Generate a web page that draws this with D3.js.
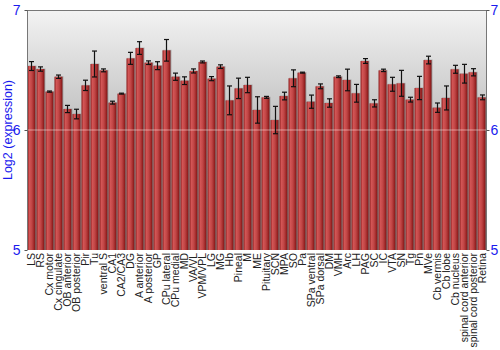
<!DOCTYPE html>
<html><head><meta charset="utf-8">
<script src="https://cdn.jsdelivr.net/npm/d3@7"></script>
<style>body{margin:0;background:#fff}svg{display:block}</style>
</head><body><svg id="c" width="500" height="350"></svg>
<script>
const regions = ["LS","RS","Cx motor","Cx cingulate","OB anterior","OB posterior","Pir","Tu","ventral S","CA1","CA2/CA3","DG","A anterior","A posterior","GP","CPu lateral","CPu medial","MD","VA/VL","VPM/VPL","LG","MG","Hb","Pineal","M","ME","Pituitary","SCN","MPA","SO","Pa","SPa ventral","SPa dorsal","DM","VMH","Arc","LH","PAG","SC","IC","VTA","SN","Tg","Pn","MVe","Cb vermis","Cb lobe","Cb nucleus","spinal cord anterior","spinal cord posterior","Retina"];
const expression = [6.533,6.508,6.32,6.444,6.175,6.133,6.372,6.55,6.497,6.228,6.303,6.597,6.683,6.561,6.536,6.664,6.444,6.411,6.492,6.567,6.428,6.528,6.247,6.347,6.375,6.167,6.272,6.083,6.283,6.431,6.478,6.236,6.364,6.225,6.444,6.417,6.306,6.575,6.222,6.497,6.381,6.389,6.253,6.35,6.583,6.186,6.267,6.506,6.469,6.481,6.272];
const errors = [0.037,0.018,0.005,0.014,0.03,0.04,0.043,0.108,0.012,0.012,0.004,0.05,0.053,0.015,0.033,0.09,0.03,0.032,0.017,0.008,0.017,0.015,0.12,0.085,0.064,0.11,0.008,0.114,0.032,0.07,0.004,0.055,0.02,0.035,0.007,0.09,0.074,0.02,0.03,0.01,0.058,0.108,0.02,0.097,0.032,0.039,0.1,0.033,0.078,0.03,0.02];
const yTicks = [5,6,7];
const yTitle = "Log2 (expression)";

const svg = d3.select("#c");
const L = 27, R = 486, T = 10, B = 250;
const x = d3.scaleBand().domain(regions).range([L, R]).paddingInner(0.11).paddingOuter(0.05);
const y = d3.scaleLinear().domain([5,7]).range([B, T]);

const defs = svg.append("defs");
const bg = defs.append("linearGradient").attr("id","bg").attr("x1",0).attr("x2",0).attr("y1",0).attr("y2",1);
bg.append("stop").attr("offset","0%").attr("stop-color","#f3f3f3");
bg.append("stop").attr("offset","50%").attr("stop-color","#bdbdbd");
bg.append("stop").attr("offset","100%").attr("stop-color","#999");
const bar = defs.append("linearGradient").attr("id","bar").attr("x1",0).attr("x2",1).attr("y1",0).attr("y2",0);
[["0%","#8e1e1e"],["25%","#d25555"],["55%","#c04545"],["85%","#9a2424"],["100%","#6e0e0e"]].forEach(s=>bar.append("stop").attr("offset",s[0]).attr("stop-color",s[1]));

svg.append("rect").attr("x",L).attr("y",T).attr("width",R-L).attr("height",B-T).attr("fill","url(#bg)");

// shadows
svg.append("g").selectAll("rect").data(regions).join("rect")
  .attr("x",d=>x(d)+0.5).attr("y",(d,i)=>y(expression[i])-0.5)
  .attr("width",x.bandwidth()+0.5).attr("height",(d,i)=>B-y(expression[i])+0.5)
  .attr("fill","#808080").attr("opacity",0.5);
svg.append("g").selectAll("rect").data(regions).join("rect")
  .attr("x",d=>x(d)).attr("y",(d,i)=>y(expression[i]))
  .attr("width",x.bandwidth()).attr("height",(d,i)=>B-y(expression[i]))
  .attr("fill","url(#bar)");

// gridline at 6 over bars
svg.append("line").attr("x1",L).attr("x2",R).attr("y1",y(6)).attr("y2",y(6))
  .attr("stroke","#ffdede").attr("stroke-opacity",0.55).attr("stroke-width",1);

// error bars
const eg = svg.append("g").attr("stroke","#111").attr("stroke-width",1.2);
regions.forEach((d,i)=>{
  const cx = Math.round(x(d)+x.bandwidth()/2)+0.5;
  const y1 = y(expression[i]+errors[i]), y2 = y(expression[i]-errors[i]);
  eg.append("line").attr("x1",cx).attr("x2",cx).attr("y1",y1).attr("y2",y2);
  eg.append("line").attr("x1",cx-2.5).attr("x2",cx+2.5).attr("y1",y1).attr("y2",y1);
  eg.append("line").attr("x1",cx-2.5).attr("x2",cx+2.5).attr("y1",y2).attr("y2",y2);
});

// frame
svg.append("line").attr("x1",L).attr("x2",R).attr("y1",T+0.5).attr("y2",T+0.5).attr("stroke","#777");
svg.append("line").attr("x1",L+0.5).attr("x2",L+0.5).attr("y1",T).attr("y2",B).attr("stroke","#777");
svg.append("line").attr("x1",R+0.5).attr("x2",R+0.5).attr("y1",T).attr("y2",B).attr("stroke","#777");

const left = svg.append("g").attr("transform",`translate(${L+0.5},0)`)
  .call(d3.axisLeft(y).tickValues(yTicks).tickFormat(d3.format("d")).tickSize(3).tickPadding(4));
const right = svg.append("g").attr("transform",`translate(${R+0.5},0)`)
  .call(d3.axisRight(y).tickValues(yTicks).tickFormat(d3.format("d")).tickSize(3).tickPadding(1));
[left,right].forEach(g=>{
  g.select(".domain").remove();
  g.selectAll("line").attr("stroke","#555");
  g.selectAll("text").attr("fill","#1a1aee").attr("font-family","Liberation Sans, Arial, sans-serif").attr("font-size",14);
});

svg.append("text").attr("transform",`translate(12,${(T+B)/2}) rotate(-90)`)
  .attr("text-anchor","middle").attr("fill","#1a1aee")
  .attr("font-family","Liberation Sans, Arial, sans-serif").attr("font-size",12.5).text(yTitle);

// category labels
svg.append("g").selectAll("text").data(regions).join("text")
  .attr("transform",d=>`translate(${x(d)+x.bandwidth()/2+4},${B+3}) rotate(-90)`)
  .attr("text-anchor","end").attr("fill","#222")
  .attr("font-family","Liberation Sans, Arial, sans-serif").attr("font-size",10.5).text(d=>d);
</script></body></html>
